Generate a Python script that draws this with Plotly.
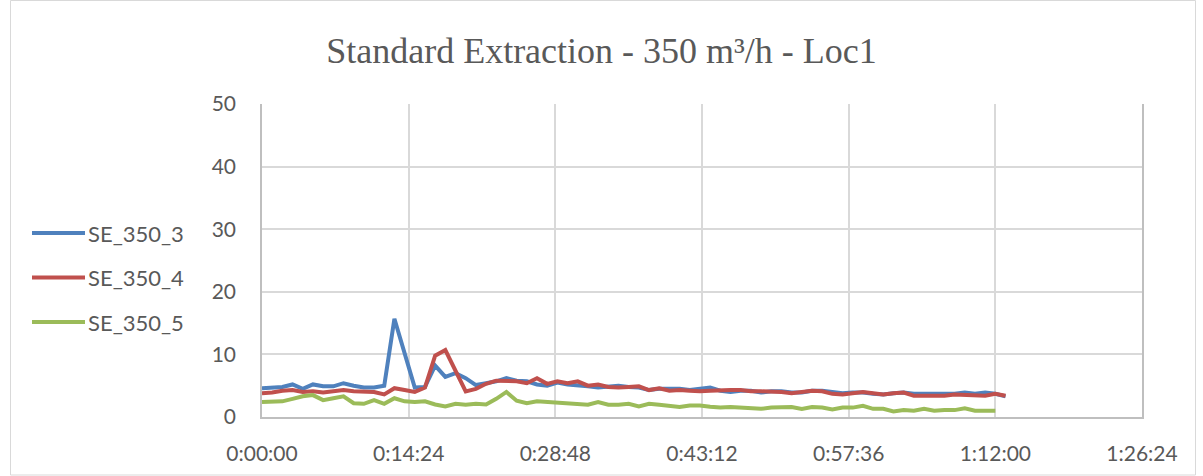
import plotly.graph_objects as go

# Sample times in minutes from start of the run
minutes = list(range(74))

se_350_3 = [4.6, 4.7, 4.8, 5.2, 4.5, 5.2, 4.9, 4.9, 5.4, 5.0,
            4.7, 4.7, 5.0, 15.7, 10.2, 4.7, 4.8, 8.2, 6.4, 7.0,
            6.2, 5.1, 5.4, 5.7, 6.2, 5.8, 5.7, 5.2, 5.0, 5.5,
            5.2, 5.1, 4.9, 4.7, 4.9, 5.0, 4.8, 4.7, 4.3, 4.5,
            4.5, 4.5, 4.3, 4.5, 4.7, 4.2, 4.0, 4.2, 4.2, 3.9,
            4.1, 4.1, 3.9, 3.9, 4.2, 4.2, 4.0, 3.8, 3.9, 3.9,
            3.7, 3.6, 3.8, 3.9, 3.7, 3.7, 3.8, 3.8, 3.7, 3.9,
            3.7, 3.9, 3.7, 3.3]

se_350_4 = [3.8, 3.9, 4.2, 4.3, 4.0, 4.1, 3.9, 4.1, 4.3, 4.1,
            4.0, 4.0, 3.6, 4.6, 4.3, 4.0, 4.7, 9.8, 10.7, 7.4,
            4.1, 4.5, 5.3, 5.8, 5.8, 5.7, 5.4, 6.2, 5.3, 5.7,
            5.4, 5.7, 5.0, 5.2, 4.8, 4.7, 4.8, 4.9, 4.3, 4.6,
            4.2, 4.3, 4.2, 4.1, 4.2, 4.3, 4.3, 4.3, 4.1, 4.1,
            4.1, 4.0, 3.8, 4.0, 4.2, 4.1, 3.7, 3.6, 3.8, 4.0,
            3.8, 3.6, 3.8, 3.9, 3.4, 3.4, 3.5, 3.4, 3.6, 3.5,
            3.5, 3.4, 3.7, 3.4]

se_350_5 = [2.4, 2.4, 2.5, 2.9, 3.3, 3.5, 2.7, 3.0, 3.3, 2.2,
            2.1, 2.7, 2.1, 3.0, 2.5, 2.4, 2.5, 2.0, 1.7, 2.1,
            1.95, 2.1, 2.0, 2.9, 4.0, 2.6, 2.2, 2.5, 2.4, 2.2,
            2.2, 2.1, 1.95, 2.4, 1.95, 1.95, 2.1, 1.7, 2.1, 1.95,
            1.7, 1.6, 1.85, 1.85, 1.65, 1.5, 1.6, 1.5, 1.5, 1.3,
            1.5, 1.5, 1.6, 1.3, 1.6, 1.5, 1.2, 1.5, 1.5, 1.8,
            1.3, 1.3, 0.9, 1.1, 1.0, 1.3, 1.0, 1.1, 1.1, 1.4,
            1.0, 1.0, 1.0]

series_names = ["SE_350_3", "SE_350_4", "SE_350_5"]
series_values = [se_350_3, se_350_4, se_350_5]
series_colors = ["#4F81BD", "#C0504D", "#9BBB59"]

x_tick_minutes = [0, 14.4, 28.8, 43.2, 57.6, 72.0, 86.4]
x_tick_labels = ["0:00:00", "0:14:24", "0:28:48", "0:43:12", "0:57:36", "1:12:00", "1:26:24"]
y_ticks = [0, 10, 20, 30, 40, 50]

W, H = 1203, 476
M_L, M_R, M_T, M_B = 262, 61, 104, 59
PW, PH = W - M_L - M_R, H - M_T - M_B


def px_x(px):
    return (px - M_L) / PW


def px_y(py):
    return (H - M_B - py) / PH


TEXT = "#595959"
GRID = "#D9D9D9"
AXIS = "#BFBFBF"
LINE_W = 4

fig = go.Figure()
for name, vals, col in zip(series_names, series_values, series_colors):
    fig.add_trace(go.Scatter(
        x=minutes[:len(vals)], y=vals, name=name, mode="lines",
        line=dict(color=col, width=LINE_W), showlegend=False,
    ))

# Legend block on the left
shapes = []
annotations = []
for i, (name, col) in enumerate(zip(series_names, series_colors)):
    yy = px_y(233 + i * 44.5)
    shapes.append(dict(type="line", xref="paper", yref="paper",
                       x0=px_x(32), x1=px_x(85), y0=yy, y1=yy,
                       line=dict(color=col, width=LINE_W)))
    annotations.append(dict(text=name, xref="paper", yref="paper",
                            x=px_x(86), y=yy, xanchor="left", yanchor="middle",
                            showarrow=False, font=dict(family="Lato", size=22, color=TEXT)))

# Chart area frame
shapes.append(dict(type="rect", xref="paper", yref="paper",
                   x0=px_x(10.5), x1=px_x(1195.5), y0=px_y(475), y1=px_y(0.5),
                   line=dict(color=GRID, width=1), layer="below"))

fig.update_layout(
    width=W, height=H,
    margin=dict(l=M_L, r=M_R, t=M_T, b=M_B),
    paper_bgcolor="white", plot_bgcolor="white",
    title=dict(text="Standard Extraction - 350 m³/h - Loc1",
               x=0.5, xref="container", xanchor="center",
               y=1 - 50 / H, yref="container", yanchor="middle",
               font=dict(family="Liberation Serif", size=36, color=TEXT)),
    xaxis=dict(range=[0, 86.4], tickvals=x_tick_minutes, ticktext=x_tick_labels,
               showgrid=True, gridcolor=GRID, gridwidth=1.5,
               showline=True, linecolor=AXIS, linewidth=1.5,
               zeroline=False, ticks="", ticklabelstandoff=17,
               tickfont=dict(family="Lato", size=21, color=TEXT)),
    yaxis=dict(range=[0, 50], tickvals=y_ticks,
               showgrid=True, gridcolor=GRID, gridwidth=1.5,
               showline=True, linecolor=AXIS, linewidth=1.5, mirror=True,
               zeroline=False, ticks="", ticklabelstandoff=20,
               tickfont=dict(family="Lato", size=21, color=TEXT)),
    shapes=shapes,
    annotations=annotations,
)

fig.write_html("out.html")
